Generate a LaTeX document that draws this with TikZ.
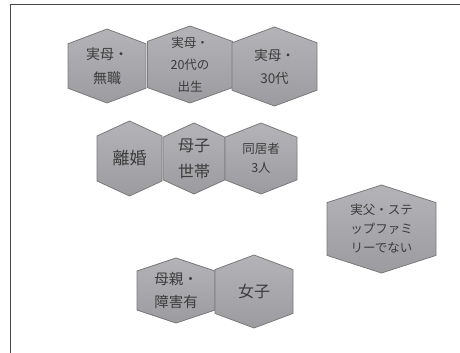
\documentclass[tikz,border=0pt]{standalone}
\usepackage{fontspec}
\setmainfont{Noto Sans CJK JP}
\definecolor{framecol}{HTML}{464646}
\definecolor{hexborder}{HTML}{7A7A7A}
\definecolor{hextop}{HTML}{B4B4B8}
\definecolor{hexbot}{HTML}{9C9CA0}
\definecolor{txtcol}{HTML}{3C3C3C}
\tikzset{
  hexfill/.style={draw=hexborder, line width=0.8pt, top color=hextop, bottom color=hexbot, line join=miter},
  hextext/.style={text=txtcol, align=center, inner sep=0pt},
  framestyle/.style={draw=framecol, line width=1.6pt}
}
\newcommand\hexa[8]{%
  \shadedraw[hexfill] (#2,#3-#5/2) -- (#2+#4/2,#3-0.3*#5) -- (#2+#4/2,#3+0.3*#5) -- (#2,#3+#5/2)
     -- (#2-#4/2,#3+0.3*#5) -- (#2-#4/2,#3-0.3*#5) -- cycle;
  \node[hextext, font=\fontsize{#6}{#7}\selectfont] (#1) at (#2,#3) {#8};
}
\begin{document}
\begin{tikzpicture}[x=1pt,y=-1pt]
\useasboundingbox (0,0) rectangle (460,353);
\draw[framestyle] (10.5,370) -- (10.5,4.5) -- (480,4.5);
\hexa{mushoku}{107}{66}{78}{74}{14}{24}{実母・\\無職}
\hexa{nijudai}{190}{64.5}{85}{77}{12.5}{22}{実母・\\20代の\\出生}
\hexa{sanjudai}{274.5}{66.5}{85}{79}{13.5}{23}{実母・\\30代}
\hexa{rikon}{129.5}{158.5}{65}{75}{17}{20}{離婚}
\hexa{boshi}{194}{158.5}{62}{71}{16}{26}{母子\\世帯}
\hexa{dokyo}{261}{158.5}{72}{71}{12.5}{19}{同居者\\3人}
\hexa{jippu}{381.5}{229}{109}{88}{12.5}{19}{実父・ステ\\ップファミ\\リーでない}
\hexa{shogai}{176}{290.5}{78}{65}{14.5}{23}{母親・\\障害有}
\hexa{joshi}{254}{291.5}{78}{73}{16}{20}{女子}
\end{tikzpicture}
\end{document}
